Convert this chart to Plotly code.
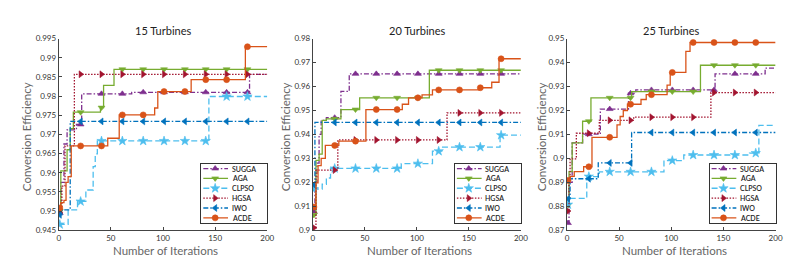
import plotly.graph_objects as go

W, H = 798, 257
ITER_MAX = 200
MARKER_ITERS = [1, 21, 41, 61, 81, 101, 121, 141, 161, 181]
SERIES = ["SUGGA", "AGA", "CLPSO", "HGSA", "IWO", "ACDE"]
PANEL_TITLES = ["15 Turbines", "20 Turbines", "25 Turbines"]
X_TICKS = [0, 50, 100, 150, 200]
X_TICKTEXT = ["0", "50", "100", "150", "200"]
Y_TICKS_15 = [0.945, 0.95, 0.955, 0.96, 0.965, 0.97, 0.975, 0.98, 0.985, 0.99, 0.995]
Y_TICKTEXT_15 = ["0.945", "0.95", "0.955", "0.96", "0.965", "0.97", "0.975", "0.98", "0.985", "0.99", "0.995"]
Y_TICKS_20 = [0.9, 0.91, 0.92, 0.93, 0.94, 0.95, 0.96, 0.97, 0.98]
Y_TICKTEXT_20 = ["0.9", "0.91", "0.92", "0.93", "0.94", "0.95", "0.96", "0.97", "0.98"]
Y_TICKS_25 = [0.87, 0.88, 0.89, 0.9, 0.91, 0.92, 0.93, 0.94, 0.95]
Y_TICKTEXT_25 = ["0.87", "0.88", "0.89", "0.9", "0.91", "0.92", "0.93", "0.94", "0.95"]

# ---- 15 turbines: change points (iteration, best value) ----
t15_sugga_it = [0, 2, 5, 8, 17, 22, 70, 183]
t15_sugga_val = [0.9495, 0.9575, 0.9675, 0.9712, 0.9726, 0.9806, 0.9810, 0.9857]
t15_aga_it = [0, 2, 8, 11, 14, 40, 43, 53]
t15_aga_val = [0.9500, 0.9605, 0.9660, 0.9715, 0.9758, 0.9770, 0.9828, 0.9870]
t15_clpso_it = [0, 9, 18, 26, 33, 35, 37, 144]
t15_clpso_val = [0.9465, 0.9503, 0.9525, 0.9555, 0.9616, 0.9649, 0.9683, 0.9799]
t15_hgsa_it = [0, 3, 6, 15]
t15_hgsa_val = [0.9495, 0.9565, 0.9670, 0.9857]
t15_iwo_it = [0, 3, 11]
t15_iwo_val = [0.9490, 0.9503, 0.9734]
t15_acde_it = [0, 2, 5, 7, 9, 12, 47, 58, 92, 95, 127, 179]
t15_acde_val = [0.9508, 0.9522, 0.9528, 0.9575, 0.9590, 0.9670, 0.9690, 0.9751, 0.9769, 0.9812, 0.9843, 0.9929]

# ---- 20 turbines ----
t20_sugga_it = [0, 2, 4, 6, 8, 13, 27, 35]
t20_sugga_val = [0.9077, 0.9200, 0.9280, 0.9400, 0.9459, 0.9470, 0.9580, 0.9653]
t20_aga_it = [0, 3, 6, 9, 13, 27, 45, 112]
t20_aga_val = [0.9064, 0.9292, 0.9318, 0.9459, 0.9465, 0.9504, 0.9553, 0.9668]
t20_clpso_it = [0, 9, 13, 17, 85, 115, 124, 180]
t20_clpso_val = [0.9172, 0.9192, 0.9218, 0.9258, 0.9278, 0.9330, 0.9347, 0.9397]
t20_hgsa_it = [0, 3, 24, 129]
t20_hgsa_val = [0.9010, 0.9251, 0.9377, 0.9490]
t20_iwo_it = [0, 2]
t20_iwo_val = [0.9190, 0.9450]
t20_acde_it = [0, 3, 5, 8, 12, 25, 51, 86, 92, 105, 115, 160, 172, 179]
t20_acde_val = [0.9097, 0.9198, 0.9270, 0.9300, 0.9354, 0.9372, 0.9504, 0.9526, 0.9553, 0.9565, 0.9586, 0.9595, 0.9618, 0.9716]

# ---- 25 turbines ----
t25_sugga_it = [0, 2, 5, 15, 32, 59, 66, 142, 190]
t25_sugga_val = [0.8730, 0.8900, 0.9065, 0.9101, 0.9206, 0.9272, 0.9286, 0.9353, 0.9377]
t25_aga_it = [0, 2, 5, 15, 23, 62, 128]
t25_aga_val = [0.8805, 0.8945, 0.9065, 0.9155, 0.9253, 0.9279, 0.9389]
t25_clpso_it = [0, 2, 19, 31, 93, 112, 175, 184]
t25_clpso_val = [0.8807, 0.8833, 0.8924, 0.8944, 0.8991, 0.9014, 0.9022, 0.9138]
t25_hgsa_it = [0, 2, 3, 9, 31, 64, 138]
t25_hgsa_val = [0.8780, 0.8917, 0.8998, 0.9105, 0.9159, 0.9172, 0.9275]
t25_iwo_it = [0, 3, 30, 62]
t25_iwo_val = [0.8831, 0.8915, 0.8981, 0.9108]
t25_acde_it = [0, 3, 7, 16, 24, 48, 51, 54, 58, 71, 76, 96, 99, 114, 118]
t25_acde_val = [0.8908, 0.8925, 0.8945, 0.8965, 0.9088, 0.9140, 0.9175, 0.9200, 0.9226, 0.9246, 0.9266, 0.9306, 0.9359, 0.9447, 0.9484]

panels = [
    [(t15_sugga_it, t15_sugga_val), (t15_aga_it, t15_aga_val), (t15_clpso_it, t15_clpso_val),
     (t15_hgsa_it, t15_hgsa_val), (t15_iwo_it, t15_iwo_val), (t15_acde_it, t15_acde_val)],
    [(t20_sugga_it, t20_sugga_val), (t20_aga_it, t20_aga_val), (t20_clpso_it, t20_clpso_val),
     (t20_hgsa_it, t20_hgsa_val), (t20_iwo_it, t20_iwo_val), (t20_acde_it, t20_acde_val)],
    [(t25_sugga_it, t25_sugga_val), (t25_aga_it, t25_aga_val), (t25_clpso_it, t25_clpso_val),
     (t25_hgsa_it, t25_hgsa_val), (t25_iwo_it, t25_iwo_val), (t25_acde_it, t25_acde_val)],
]
y_ranges = [(0.945, 0.995), (0.9, 0.98), (0.87, 0.95)]
y_ticks = [(Y_TICKS_15, Y_TICKTEXT_15), (Y_TICKS_20, Y_TICKTEXT_20), (Y_TICKS_25, Y_TICKTEXT_25)]

# ---- styling ----
COLORS = ["#7E2F8E", "#77AC30", "#4DBEEE", "#A2142F", "#0072BD", "#D95319"]
DASHES = ["5px,2px,1.5px,2px", "solid", "6px,3px", "1.5px,1.5px", "5px,2px,1.5px,2px", "solid"]
SYMBOLS = ["triangle-up", "triangle-down", "star", "triangle-right", "triangle-left", "circle"]
MSIZE = [6, 6, 7, 6, 6, 6]
FONT = "Lato"
AX_COL = "#444444"

# pixel layout (left, right) of each plot area, top/bottom shared
X_PIX = [(49.3, 260.2), (306.3, 516.7), (563.3, 774.3)]
Y_PIX = (26.7, 226.0)
Y_TITLE_X = [17, 278, 537]
LEG_W, LEG_TOP, LEG_BOT = 66.7, 156.7, 218.3


def px(x):
    return x / W


def py(y):
    return 1 - y / H


def step_value(its, vals, k):
    v = vals[0]
    for i, val in zip(its, vals):
        if i <= k:
            v = val
    return v


fig = go.Figure()
layout = dict(
    width=W, height=H, margin=dict(l=0, r=0, t=0, b=0),
    paper_bgcolor="white", plot_bgcolor="white", showlegend=False,
    font=dict(family=FONT, size=8, color="#333333"),
)
annotations = []

for p in range(3):
    xa = "x" if p == 0 else f"x{p + 1}"
    ya = "y" if p == 0 else f"y{p + 1}"
    for s, (its, vals) in enumerate(panels[p]):
        xs = list(its) + [ITER_MAX]
        ys = list(vals) + [vals[-1]]
        fig.add_trace(go.Scatter(
            x=xs, y=ys, mode="lines", line_shape="hv", xaxis=xa, yaxis=ya,
            line=dict(color=COLORS[s], width=1.3, dash=DASHES[s]), hoverinfo="skip"))
        mk_y = [step_value(its, vals, k) for k in MARKER_ITERS]
        fig.add_trace(go.Scatter(
            x=MARKER_ITERS, y=mk_y, mode="markers", xaxis=xa, yaxis=ya,
            marker=dict(symbol=SYMBOLS[s], size=MSIZE[s], color=COLORS[s],
                        line=dict(width=0.6, color=COLORS[s])), hoverinfo="skip"))
    l, r = X_PIX[p]
    key = "" if p == 0 else str(p + 1)
    layout["xaxis" + key] = dict(
        domain=[px(l), px(r)], range=[0, ITER_MAX], anchor=ya,
        tickvals=X_TICKS, ticktext=X_TICKTEXT, ticks="inside", ticklen=3,
        tickcolor=AX_COL, showline=True, linecolor=AX_COL, linewidth=1,
        showgrid=False, zeroline=False, tickfont=dict(size=8, color="#333333"))
    tv, tt = y_ticks[p]
    layout["yaxis" + key] = dict(
        domain=[py(Y_PIX[1]), py(Y_PIX[0])], range=list(y_ranges[p]), anchor=xa,
        tickvals=tv, ticktext=tt, ticks="inside", ticklen=3,
        tickcolor=AX_COL, showline=True, linecolor=AX_COL, linewidth=1,
        showgrid=False, zeroline=False, tickfont=dict(size=8, color="#333333"))
    cx = (l + r) / 2
    annotations.append(dict(text=PANEL_TITLES[p], x=px(cx), y=py(18), xref="paper", yref="paper",
                            showarrow=False, xanchor="center", yanchor="middle",
                            font=dict(size=11, color="#222222", family=FONT)))
    annotations.append(dict(text="Number of Iterations", x=px(cx + 3), y=py(247), xref="paper",
                            yref="paper", showarrow=False, xanchor="center", yanchor="middle",
                            font=dict(size=11.5, color="#666666", family=FONT)))
    annotations.append(dict(text="Conversion Efficiency", x=px(Y_TITLE_X[p]),
                            y=py((Y_PIX[0] + Y_PIX[1]) / 2 + 2), xref="paper", yref="paper",
                            showarrow=False, textangle=-90, xanchor="center", yanchor="middle",
                            font=dict(size=11.5, color="#666666", family=FONT)))

    # ---- legend box as an inset axis ----
    lk = str(p + 4)
    lx, ly = "x" + lk, "y" + lk
    layout["xaxis" + lk] = dict(domain=[px(r - LEG_W), px(r)], range=[0, 1], anchor=ly,
                                showline=True, mirror=True, linecolor="#333333", linewidth=1,
                                showticklabels=False, ticks="", showgrid=False, zeroline=False)
    layout["yaxis" + lk] = dict(domain=[py(LEG_BOT), py(LEG_TOP)], range=[0, 1], anchor=lx,
                                showline=True, mirror=True, linecolor="#333333", linewidth=1,
                                showticklabels=False, ticks="", showgrid=False, zeroline=False)
    n = len(SERIES)
    for s, name in enumerate(SERIES):
        yy = 1 - (s + 0.5) / n
        fig.add_trace(go.Scatter(
            x=[0.03, 0.405], y=[yy, yy], mode="lines", xaxis=lx, yaxis=ly,
            line=dict(color=COLORS[s], width=1.3, dash=DASHES[s]), hoverinfo="skip"))
        fig.add_trace(go.Scatter(
            x=[0.21], y=[yy], mode="markers", xaxis=lx, yaxis=ly,
            marker=dict(symbol=SYMBOLS[s], size=MSIZE[s], color=COLORS[s],
                        line=dict(width=0.6, color=COLORS[s])), hoverinfo="skip"))
        annotations.append(dict(text=name, x=0.43, y=yy, xref=lx, yref=ly, showarrow=False,
                                xanchor="left", yanchor="middle",
                                font=dict(size=7, color="#222222", family=FONT, weight=600)))

layout["annotations"] = annotations
fig.update_layout(**layout)
fig.write_html("out.html")
